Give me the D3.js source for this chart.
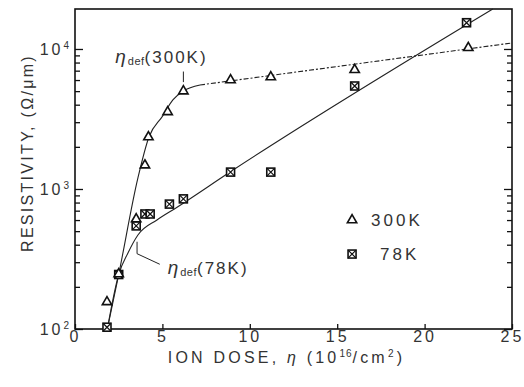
<!DOCTYPE html>
<html>
<body>
<script src="https://d3js.org/d3.v7.min.js"></script>
<style>
  body { margin: 0; background: #fff; }
  svg text { font-family: "Liberation Sans", Arial, sans-serif; fill: #333; }
  .axis path { display: none; }
  .axis line { stroke: #111; stroke-width: 1.3px; }
  .axis text { font-size: 16px; letter-spacing: 3px; }
  .frame { fill: none; stroke: #111; stroke-width: 1.6px; }
  .fit { fill: none; stroke: #222; stroke-width: 1.1px; }
  .fit.dashed { stroke-dasharray: 5 2 2 2; }
  .mark { fill: #fff; stroke: #111; stroke-width: 1.6px; }
</style>
<script>
  var dose300 = [1.83, 2.5, 3.5, 4.0, 4.2, 5.3, 6.2, 8.9, 11.2, 16.0, 22.5];
  var rho300  = [156, 247, 610, 1480, 2350, 3550, 5000, 6000, 6300, 7100, 10200];
  var dose78  = [1.83, 2.5, 3.5, 4.0, 4.3, 5.4, 6.2, 8.9, 11.2, 16.0, 22.4];
  var rho78   = [103, 245, 545, 663, 663, 780, 850, 1320, 1320, 5440, 15400];

  // hand-drawn guide curves
  var fit300SolidDose = [1.85, 2.5, 3.6, 4.23, 5.0, 5.6, 6.2, 7.15];
  var fit300SolidRho  = [100, 245, 1200, 2350, 3300, 4325, 5010, 5530];
  var fit300DashDose  = [7.15, 25];
  var fit300DashRho   = [5530, 11040];
  var fit78Dose = [1.85, 2.5, 3.03, 3.6, 4.69, 5.84, 8.87, 23.9];
  var fit78Rho  = [100, 245, 349, 469, 601, 741, 1322, 19300];

  var xTicks = [0, 5, 10, 15, 20, 25];
  var yTicks = [100, 1000, 10000];
  var yTickExp = ["2", "3", "4"];

  var margin = {top: 9, right: 12, bottom: 58, left: 75};
  var width = 524 - margin.left - margin.right,
      height = 387 - margin.top - margin.bottom;

  var x = d3.scaleLinear().domain([0, 25]).range([0, width]);
  var y = d3.scaleLog().domain([100, 19300]).range([height, 0]);

  var svg = d3.select("body").append("svg")
      .attr("width", 524)
      .attr("height", 387)
    .append("g")
      .attr("transform", `translate(${margin.left},${margin.top})`);

  // x axis, ticks pointing in
  svg.append("g")
      .attr("class", "x axis")
      .attr("transform", `translate(0,${height})`)
      .call(d3.axisBottom(x).tickValues(xTicks).tickSize(-5).tickPadding(2));

  // y axes, major + minor ticks pointing in
  var minor = y.ticks().filter(d => yTicks.indexOf(d) < 0);

  svg.append("g")
      .attr("class", "y axis")
      .call(d3.axisLeft(y).tickValues(minor).tickSize(-5).tickFormat(""));
  svg.append("g")
      .attr("class", "y axis")
      .call(d3.axisRight(y).tickValues(minor).tickSize(-5).tickFormat(""))
      .attr("transform", `translate(${width},0)`);
  svg.append("g")
      .attr("class", "y axis")
      .attr("transform", `translate(${width},0)`)
      .call(d3.axisRight(y).tickValues(yTicks).tickSize(-8).tickFormat(""));

  var yMajor = svg.append("g")
      .attr("class", "y axis")
      .call(d3.axisLeft(y).tickValues(yTicks).tickSize(-8).tickPadding(3).tickFormat(""));

  yMajor.selectAll(".tick text")
      .attr("dy", "0.32em")
      .each(function(d, i) {
        var t = d3.select(this);
        t.append("tspan").text("10");
        t.append("tspan").text(yTickExp[i])
          .attr("font-size", "10px").attr("dy", "-0.6em");
      });

  svg.append("rect")
      .attr("class", "frame")
      .attr("width", width)
      .attr("height", height);

  // guide curves
  var line = d3.line()
      .x(d => x(d[0]))
      .y(d => y(d[1]))
      .curve(d3.curveMonotoneX);

  svg.append("path").attr("class", "fit")
      .attr("d", line(d3.zip(fit300SolidDose, fit300SolidRho)));
  svg.append("path").attr("class", "fit dashed")
      .attr("d", line(d3.zip(fit300DashDose, fit300DashRho)));
  svg.append("path").attr("class", "fit")
      .attr("d", line(d3.zip(fit78Dose, fit78Rho)));

  // markers
  var tri = d3.symbol().type(d3.symbolTriangle).size(38);

  function square(g) {
    g.append("rect").attr("class", "mark")
        .attr("x", -4).attr("y", -4).attr("width", 8).attr("height", 8);
    g.append("path").attr("stroke", "#111").attr("stroke-width", 1.2)
        .attr("d", "M-4,-4L4,4M4,-4L-4,4");
  }

  svg.selectAll(".p78")
      .data(d3.zip(dose78, rho78))
    .enter().append("g")
      .attr("class", "p78")
      .attr("transform", d => `translate(${x(d[0])},${y(d[1])})`)
      .call(square);

  svg.selectAll(".p300")
      .data(d3.zip(dose300, rho300))
    .enter().append("path")
      .attr("class", "mark p300")
      .attr("d", tri)
      .attr("transform", d => `translate(${x(d[0])},${y(d[1])})`);

  // annotations
  function etaLabel(px, py, tag) {
    var t = svg.append("text")
        .attr("x", px).attr("y", py)
        .attr("font-size", "17px").attr("letter-spacing", "2px");
    t.append("tspan").text("η").attr("font-style", "italic").attr("font-size", "19px");
    t.append("tspan").text("def").attr("font-size", "11px").attr("dy", "2")
        .attr("letter-spacing", "0.5px");
    t.append("tspan").text("(" + tag + ")").attr("dy", "-2");
  }

  etaLabel(x(2.3), y(8000), "300K");
  svg.append("line")
      .attr("stroke", "#222")
      .attr("x1", x(6.2)).attr("x2", x(6.2))
      .attr("y1", y(5800)).attr("y2", y(6900));

  etaLabel(x(5.3), y(248), "78K");
  svg.append("path")
      .attr("fill", "none").attr("stroke", "#222")
      .attr("d", `M${x(3.55)},${y(420)}V${y(345)}L${x(4.85)},${y(290)}`);

  // legend
  var legend = svg.append("g")
      .attr("transform", `translate(${x(15.85)},${y(600)})`);
  legend.append("path").attr("class", "mark").attr("d", tri);
  legend.append("text").attr("x", 19).attr("y", 6)
      .attr("font-size", "17px").attr("letter-spacing", "3px").text("300K");
  var leg78 = legend.append("g").attr("transform", "translate(0,34)");
  leg78.call(square);
  leg78.append("text").attr("x", 28).attr("y", 6)
      .attr("font-size", "17px").attr("letter-spacing", "3px").text("78K");

  // axis titles
  var xt = svg.append("text")
      .attr("x", width / 2 - 7).attr("y", height + 34)
      .attr("text-anchor", "middle")
      .attr("font-size", "16px").attr("letter-spacing", "3.2px");
  xt.append("tspan").text("ION DOSE, ");
  xt.append("tspan").text("η").attr("font-style", "italic");
  xt.append("tspan").text(" (10");
  xt.append("tspan").text("16").attr("font-size", "10px").attr("dy", "-6")
      .attr("letter-spacing", "1px");
  xt.append("tspan").text("/cm").attr("dy", "6");
  xt.append("tspan").text("2").attr("font-size", "10px").attr("dy", "-6");
  xt.append("tspan").text(")").attr("dy", "6");

  svg.append("text")
      .attr("transform", `translate(${-margin.left + 33},${height / 2 - 16}) rotate(-90)`)
      .attr("text-anchor", "middle")
      .attr("font-size", "16px").attr("letter-spacing", "2.3px")
      .text("RESISTIVITY, (Ω/μm)");
</script>
</body>
</html>
